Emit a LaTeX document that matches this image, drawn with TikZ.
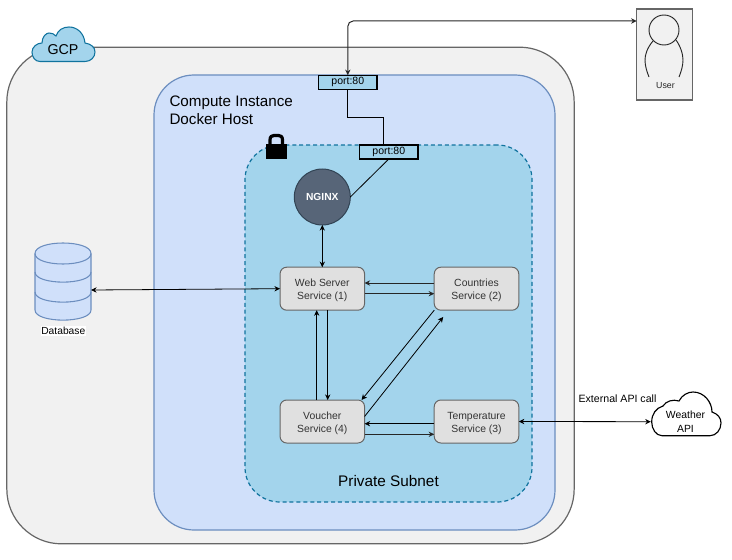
\documentclass[tikz,border=0pt]{standalone}
\usepackage{fontspec}
\setmainfont{Liberation Sans}
\usetikzlibrary{arrows.meta,calc}
\definecolor{outerfill}{HTML}{F1F1F1}
\definecolor{outerline}{HTML}{666666}
\definecolor{hostfill}{HTML}{D0E0FA}
\definecolor{hostline}{HTML}{6C8EBF}
\definecolor{netfill}{HTML}{A3D4EC}
\definecolor{netline}{HTML}{10739E}
\definecolor{svcfill}{HTML}{E0E0E0}
\definecolor{nginxfill}{HTML}{576578}
\definecolor{nginxline}{HTML}{314354}
\newcommand{\svctop}{\rule{0pt}{7.9pt}}
\tikzset{
  x=0.75pt,y=-0.75pt,
  >={Stealth[length=4.2pt,width=4pt]},
  every node/.style={inner sep=0pt,outer sep=0pt},
  zone/.style={draw,rectangle,line width=0.9pt},
  service/.style={draw=outerline,fill=svcfill,rectangle,rounded corners=5pt,line width=0.75pt,
    minimum width=63.4pt,minimum height=32.25pt,align=center,
    font=\fontsize{7.8}{9.75}\selectfont,text=black!80},
  portbox/.style={draw=black,fill=netfill,rectangle,line width=0.95pt,
    minimum width=43.9pt,minimum height=10.5pt,font=\fontsize{7.9}{9}\selectfont},
  link/.style={draw=black,line width=0.6pt},
  wire/.style={draw=black!85,line width=0.75pt},
  heading/.style={font=\fontsize{11.4}{13}\selectfont,anchor=west},
}
\begin{document}
\begin{tikzpicture}
\useasboundingbox (0,0) rectangle (732,560);
% zones
\node[zone,draw=outerline,fill=outerfill,rounded corners=41pt,minimum width=425.5pt,minimum height=372.5pt] (gcpzone) at (290.5,295.5) {};
\node[zone,draw=hostline,fill=hostfill,rounded corners=30pt,minimum width=300.75pt,minimum height=341.25pt] (hostzone) at (354.5,302.5) {};
\node[zone,draw=netline,fill=netfill,dash pattern=on 3pt off 2.2pt,rounded corners=26pt,minimum width=215.25pt,minimum height=267.75pt] (netzone) at (388.5,323.5) {};
% GCP cloud
\draw[draw=netline,fill=netfill,line width=0.8pt]
  (40,61.5) .. controls (35,61.5) and (32,57) .. (32,52)
  .. controls (32,47) and (37,43) .. (42,43)
  .. controls (42,37) and (46,33) .. (49,33)
  .. controls (52,33) and (54,34) .. (56,36)
  .. controls (58,30) and (63,27) .. (69,27)
  .. controls (77,27) and (84,33) .. (85,43)
  .. controls (91,44) and (95,47) .. (95,52)
  .. controls (95,57) and (91,61.5) .. (85,61.5) -- cycle;
\node[font=\fontsize{10.7}{12}\selectfont] (gcp) at (63,50) {GCP};
% labels
\node[heading] (computelabel) at (169.5,102.5) {Compute Instance};
\node[heading] (dockerlabel) at (169.5,119) {Docker Host};
\node[font=\fontsize{11.5}{13}\selectfont] (subnetlabel) at (388.5,481) {Private Subnet};
% lock
\fill[black] (266,144) rectangle (286.7,158.5);
\draw[black,line width=2.4pt] (270,145) -- (270,140) .. controls (270,136.5) and (272,135.5) .. (274,135.5) -- (278.5,135.5) .. controls (280.5,135.5) and (282.5,136.5) .. (282.5,140) -- (282.5,145);
% ports
\node[portbox] (port1) at (347.8,82.2) {port:80};
\node[portbox] (port2) at (388.8,152) {port:80};
% nginx
\node[circle,draw=nginxline,fill=nginxfill,line width=0.75pt,minimum size=42pt,text=white,font=\bfseries\fontsize{7.7}{9}\selectfont] (nginx) at (322.3,197) {NGINX};
% services
\node[service] (web) at (322.3,288.7) {\svctop Web Server\\Service (1)};
\node[service] (countries) at (476.5,288.7) {\svctop Countries\\Service (2)};
\node[service] (voucher) at (322.3,421.5) {\svctop Voucher\\Service (4)};
\node[service] (temp) at (476.5,421.5) {\svctop Temperature\\Service (3)};
% database
\node[minimum width=42pt,minimum height=57.75pt] (db) at (63,281.5) {};
\draw[draw=hostline,fill=hostfill,line width=0.8pt]
  (35,253.5) -- (35,310) .. controls (35,323.5) and (91,323.5) .. (91,310) -- (91,253.5)
  .. controls (91,239.5) and (35,239.5) .. (35,253.5) -- cycle;
\draw[draw=hostline,line width=0.8pt]
  (35,253.5) .. controls (35,267.5) and (91,267.5) .. (91,253.5)
  (35,272) .. controls (35,285.5) and (91,285.5) .. (91,272)
  (35,292) .. controls (35,305.5) and (91,305.5) .. (91,292);
\node[fill=white,font=\fontsize{7.7}{9}\selectfont,inner ysep=1pt,inner xsep=0.5pt] (dblabel) at (63.3,331) {Database};
% user
\node[draw=outerline,fill=outerfill,rectangle,line width=0.9pt,minimum width=42pt,minimum height=68.25pt] (user) at (664.7,54.5) {};
\draw[black!85,line width=0.7pt] (664,30) circle[radius=15];
\draw[black!85,line width=0.7pt] (653,41) .. controls (647,48) and (645,55) .. (645,60) .. controls (645,66) and (647,72) .. (649,77);
\draw[black!85,line width=0.7pt] (676,40) .. controls (681,47) and (683,55) .. (683,60) .. controls (683,66) and (681,72) .. (679,77);
\node[font=\fontsize{6.6}{8}\selectfont,text=black!85] (userlabel) at (665.5,85.5) {User};
% weather
\draw[draw=black,fill=white,line width=0.85pt]
  (662,435.7) .. controls (656,435.7) and (651.7,429) .. (651.7,422)
  .. controls (651.7,414) and (656,408) .. (663,406)
  .. controls (666,401) and (673,399) .. (679,401)
  .. controls (682,395) and (688,392) .. (693,392)
  .. controls (704,392) and (712,402) .. (712,412)
  .. controls (718,414) and (721,418) .. (721,423)
  .. controls (721,430) and (716,435.7) .. (710,435.7) -- cycle;
\node[font=\fontsize{7.8}{10}\selectfont,align=center,minimum width=52pt,minimum height=30pt] (weather) at (685.5,421.7) {Weather\\API};
\node[font=\fontsize{7.95}{10}\selectfont] (extlabel) at (617.5,399) {External API call};
% connectors
\draw[wire,<->,rounded corners=4pt] (port1.north) |- ($(user.west)+(0,-33.5)$);
\draw[link] (port1.south) |- ($(port2.north)+(-5.8,-28)$) -- ($(port2.north)+(-5.8,0)$);
\draw[link] (port2.south) -- (nginx.east);
\draw[link,<->] (nginx.south) -- (web.north);
\draw[link,<->] ($(db.east)+(0,8.5)$) -- (web.west);
\draw[wire,->] ($(countries.west)+(0,-5.7)$) -- ($(web.east)+(0,-5.7)$);
\draw[wire,->] ($(web.east)+(0,5)$) -- ($(countries.west)+(0,5)$);
\draw[link,->] ($(web.south)+(5.4,0)$) -- ($(voucher.north)+(5.4,0)$);
\draw[link,->] ($(voucher.north)+(-5.6,0)$) -- ($(web.south)+(-5.6,0)$);
\draw[link,->] (countries.south west) -- ($(voucher.north east)+(-3,0)$);
\draw[link,->] ($(voucher.east)+(0,-5)$) -- ($(countries.south west)+(9,6.7)$);
\draw[link,->] ($(temp.west)+(0,2.2)$) -- ($(voucher.east)+(0,2.2)$);
\draw[wire,->] ($(voucher.east)+(0,12.8)$) -- ($(temp.west)+(0,12.8)$);
\draw[link,<->] (temp.east) -- (weather.west);
\end{tikzpicture}
\end{document}
